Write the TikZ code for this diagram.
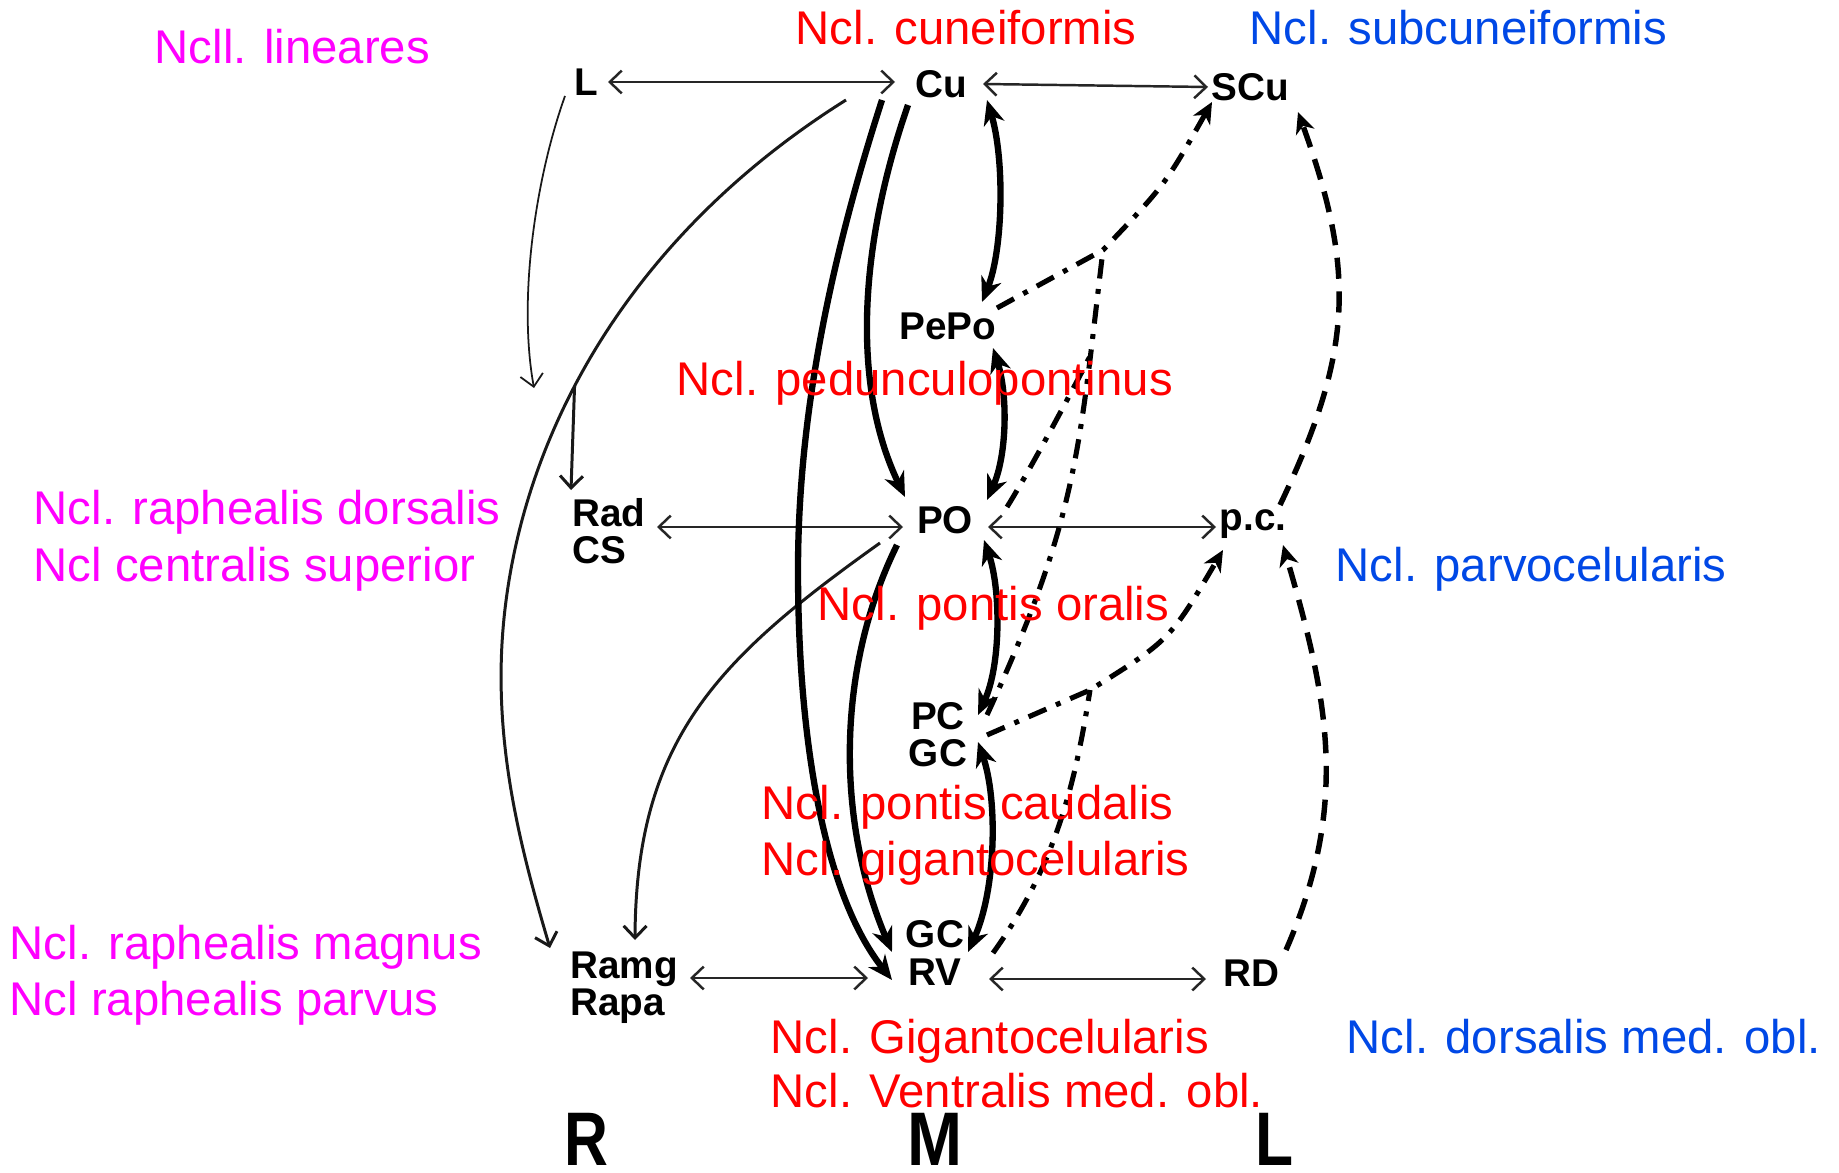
\documentclass[tikz,border=0pt]{standalone}
\usepackage{fontspec}
\usepackage{graphicx}
\setmainfont{Liberation Sans}
\usetikzlibrary{arrows.meta,calc}
\definecolor{cmag}{RGB}{255,0,255}
\definecolor{cred}{RGB}{255,0,0}
\definecolor{cblue}{RGB}{0,72,230}
\tikzset{
  nuc/.style={font=\bfseries\fontsize{11pt}{10.6pt}\selectfont, inner sep=0pt, align=center, text=black},
  lbl/.style={font=\fontsize{13.45pt}{16pt}\selectfont, inner sep=0pt, anchor=base west},
  rml/.style={font=\bfseries\fontsize{21.6pt}{23pt}\selectfont, inner sep=0pt},
  thinar/.style={line width=0.7pt, draw=black!85, {Straight Barb[length=3.4pt,width=6.5pt]}-{Straight Barb[length=3.4pt,width=6.5pt]}},
  fineline/.style={line width=0.7pt, draw=black!90, -{Straight Barb[length=3.4pt,width=6.5pt]}},
  boldar/.style={line width=1.8pt, -{Stealth[length=7pt,width=6pt,inset=2.2pt]}},
  boldboth/.style={line width=1.8pt, {Stealth[length=7pt,width=6pt,inset=2.2pt]}-{Stealth[length=7pt,width=6pt,inset=2.2pt]}},
  dashdot/.style={line width=1.45pt, dash pattern=on 5.5pt off 3pt on 1.4pt off 3pt},
  longdash/.style={line width=1.55pt, dash pattern=on 6pt off 3.6pt},
  headtip/.style={-{Stealth[length=6pt,width=5.5pt,inset=1.8pt]}}
}
\begin{document}
\begin{tikzpicture}[x=0.01cm,y=-0.01cm]
\fill[white] (0,0) rectangle (1839,1173);
\useasboundingbox (0,0) rectangle (1839,1173);

% nuclei
\node[nuc] (L) at (586,82) {L};
\node[nuc] (Cu) at (941,84) {Cu};
\node[nuc] (SCu) at (1250,87) {SCu};
\node[nuc] (PePo) at (948,326) {PePo};
\node[nuc,align=left] (RadCS) at (609,531) {Rad\\CS};
\node[nuc] (PO) at (945,520) {PO};
\node[nuc] (pc) at (1253,524) {p.c.};
\node[nuc] (PCGC) at (938,735) {PC\\GC};
\node[nuc] (GCRV) at (935,953) {GC\\RV};
\node[nuc,align=left] (RamgRapa) at (624,988) {Ramg\\Rapa};
\node[nuc] (RD) at (1251,973) {RD};

% column letters
\node[rml] (colR) at (586,1139) {\scalebox{0.8}[1]{R}};
\node[rml] (colM) at (935,1139) {\scalebox{0.87}[1]{M}};
\node[rml] (colL) at (1275,1139) {\scalebox{0.82}[1]{L}};

% horizontal thin double arrows
\draw[thinar] ($(L)+(22,0)$) -- ($(Cu)+(-46,-2)$);
\draw[thinar] ($(Cu)+(42,0)$) -- ($(SCu)+(-42,0)$);
\draw[thinar] ($(RadCS)+(48,-4)$) -- ($(PO)+(-42,7)$);
\draw[thinar] ($(PO)+(43,7)$) -- ($(pc)+(-37,3)$);
\draw[thinar] ($(RamgRapa)+(66,-10)$) -- ($(GCRV)+(-67,25)$);
\draw[thinar] ($(GCRV)+(54,26)$) -- ($(RD)+(-45,6)$);

% thin single arrows
\coordinate (Lend) at (534,388);
\draw[fineline, line width=0.5pt] ($(L)+(-21,14)$) .. controls (535,180) and (518,300) .. (Lend);
\draw[fineline, line width=0.85pt] ($(Cu)+(-95,16)$) .. controls (634,233) and (529,423) .. (506,601) coordinate[pos=0.6] (br)
   .. controls (489,730) and (519,843) .. ($(RamgRapa)+(-74,-40)$);
\draw[fineline, line width=0.85pt] (br) -- ($(RadCS)+(-38,-41)$);
\draw[fineline, line width=0.85pt] ($(PO)+(-65,23)$) .. controls (717,659) and (636,740) .. ($(RamgRapa)+(11,-48)$);

% bold arrows
\draw[boldar] ($(Cu)+(-59,16)$) .. controls (833,252) and (798,410) .. (798,570) .. controls (798,740) and (824,894) .. ($(GCRV)+(-43,27)$);
\draw[boldar] ($(Cu)+(-33,21)$) .. controls (862,237) and (849,380) .. ($(PO)+(-40,-23)$);
\draw[boldar] ($(PO)+(-48,25)$) .. controls (835,671) and (837,823) .. ($(GCRV)+(-43,-1)$);
\draw[boldboth] ($(Cu)+(46,16)$) .. controls (1005,160) and (1003,250) .. ($(PePo)+(34,-24)$);
\draw[boldboth] ($(PePo)+(45,22)$) .. controls (1008,395) and (1007,455) .. ($(PO)+(42,-20)$);
\draw[boldboth] ($(PO)+(39,20)$) .. controls (1001,590) and (1001,665) .. ($(PCGC)+(40,-20)$);
\draw[boldboth] ($(PCGC)+(40,7)$) .. controls (998,800) and (996,890) .. ($(GCRV)+(33,-1)$);

% dash-dotted projections
\coordinate (J1) at (1103,250);
\coordinate (J2) at (1090,690);
\draw[dashdot, headtip] ($(PePo)+(49,-18)$) -- (J1) .. controls (1165,185) .. ($(SCu)+(-38,15)$);
\draw[dashdot] ($(PCGC)+(49,-20)$) .. controls (1079,515) and (1079,448) .. (J1) coordinate[pos=0.8] (m1);
\draw[dashdot] ($(PO)+(62,-13)$) .. controls (1030,470) and (1070,395) .. (m1);
\draw[dashdot, headtip] ($(PCGC)+(49,0)$) -- (J2) .. controls (1170,640) .. ($(pc)+(-30,26)$);
\draw[dashdot] ($(GCRV)+(58,0)$) .. controls (1057,864) and (1076,779) .. (J2);

% dashed projections
\draw[longdash, headtip] ($(pc)+(27,-19)$) .. controls (1353,352) and (1356,272) .. ($(SCu)+(48,25)$);
\draw[longdash, headtip] ($(RD)+(35,-23)$) .. controls (1350,803) and (1328,699) .. ($(pc)+(30,21)$);

% coloured labels
\node[lbl, text=cmag] (t1) at (154,64) {Ncll. lineares};
\node[lbl, text=cred] (t2) at (795,45) {Ncl. cuneiformis};
\node[lbl, text=cblue] (t3) at (1249,45) {Ncl. subcuneiformis};
\node[lbl, text=cred] (t4) at (676,395) {Ncl. pedunculopontinus};
\node[lbl, text=cmag] (t5) at (33,524) {Ncl. raphealis dorsalis};
\node[lbl, text=cmag] (t6) at (33,581) {Ncl centralis superior};
\node[lbl, text=cblue] (t7) at (1335,581) {Ncl. parvocelularis};
\node[lbl, text=cred] (t8) at (817,620) {Ncl. pontis oralis};
\node[lbl, text=cred] (t9) at (761,819) {Ncl. pontis caudalis};
\node[lbl, text=cred] (t10) at (761,875) {Ncl. gigantocelularis};
\node[lbl, text=cmag] (t11) at (9,959) {Ncl. raphealis magnus};
\node[lbl, text=cmag] (t12) at (9,1015) {Ncl raphealis parvus};
\node[lbl, text=cred] (t13) at (770,1053) {Ncl. Gigantocelularis};
\node[lbl, text=cred] (t14) at (770,1107) {Ncl. Ventralis med. obl.};
\node[lbl, text=cblue] (t15) at (1346,1053) {Ncl. dorsalis med. obl.};
\end{tikzpicture}
\end{document}
